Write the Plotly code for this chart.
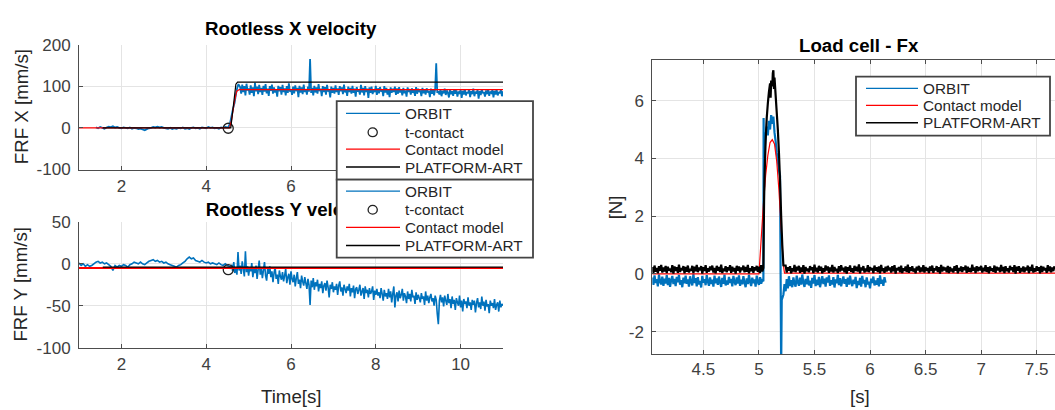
import plotly.graph_objects as go

W, H = 1055, 410

# ---------------- Rootless X velocity (top-left) ----------------
ORBIT_X_PRE_T0 = 1.40
ORBIT_X_PRE_DT = 0.05
ORBIT_X_PRE = [1, -1, 2, 0, -2, 1, 3, 2, 4, 1, 2, 0, -1, 1, 0, -1, 1, -2, 0, -1,
               -3, -2, -4, -6, -3, -1, 0, 2, 1, 3, 1, 2, 0, -1, -2, 0, -3, -1, -2, 0,
               -1, 1, -2, -1, -3, 0, 1, -1, 0, -2, 1, 0, -1, 2, 0, 1, -1, 0, -2, 1,
               0, 2, 1]
ORBIT_X_RAMP_T = [4.52, 4.56, 4.60, 4.63, 4.67, 4.70, 4.73, 4.76]
ORBIT_X_RAMP = [1, 10, 30, 45, 60, 80, 95, 105]
ORBIT_X_POST_T0 = 4.80
ORBIT_X_POST_DT = 0.025
ORBIT_X_POST = [98, 82, 104, 86, 100, 78, 106, 90, 95, 80,
                102, 84, 97, 76, 108, 88, 99, 81, 103, 86,
                96, 79, 101, 87, 105, 83, 94, 77, 100, 89,
                104, 82, 97, 85, 92, 75, 101, 88, 98, 80,
                103, 86, 95, 78, 100, 84, 107, 87, 93, 79,
                99, 83, 102, 88, 96, 74, 101, 85, 97, 81,
                104, 86, 93, 80, 99, 87, 165, 84, 96, 78,
                101, 85, 97, 82, 105, 88, 94, 76, 100, 86,
                98, 80, 103, 87, 92, 73, 99, 84, 96, 82,
                102, 86, 95, 79, 100, 88, 97, 81, 104, 85,
                93, 77, 99, 86, 96, 82, 101, 84, 94, 75,
                98, 87, 92, 80, 103, 85, 96, 78, 100, 86,
                94, 72, 97, 84, 99, 81, 92, 86, 101, 79,
                95, 83, 98, 87, 93, 76, 100, 85, 96, 80,
                91, 74, 97, 84, 94, 86, 99, 79, 95, 82,
                98, 85, 92, 78, 96, 83, 90, 75, 97, 86,
                93, 80, 95, 84, 91, 77, 98, 82, 94, 86,
                90, 76, 96, 83, 92, 80, 95, 85, 89, 74,
                94, 82, 91, 78, 93, 155, 84, 88, 80, 92,
                76, 89, 83, 94, 79, 90, 84, 73, 92, 81,
                88, 77, 93, 82, 90, 75, 87, 84, 91, 72,
                89, 80, 93, 78, 86, 83, 92, 74, 88, 81,
                94, 76, 87, 82, 91, 70, 88, 79, 92, 83,
                86, 75, 90, 81, 93, 77, 87, 84, 91, 73,
                89, 80, 92, 78, 86, 83, 91, 76, 88]
CONTACT_X_T = [1.0, 4.55, 4.60, 4.66, 4.72, 4.78, 11.0]
CONTACT_X = [0, 0, 20, 60, 88, 92, 92]
PLATFORM_X_T = [1.56, 4.58, 4.70, 4.74, 11.0]
PLATFORM_X = [0, 0, 105, 110, 110]
TCONTACT_X_T = [4.52]
TCONTACT_X = [-1]

# ---------------- Rootless Y velocity (bottom-left) ----------------
ORBIT_Y_PRE_T0 = 1.00
ORBIT_Y_PRE_DT = 0.05
ORBIT_Y_PRE = [1, -2, 0, -3, -1, -3, -2, 0, 2, 3, 1, 2, 0, 1, -1, -3, -8, -2, -4, -2,
               -3, -1, -2, -4, -1, 0, 2, 1, 0, 2, 0, -1, 1, 3, 4, 5, 3, 4, 2, 3,
               1, 2, 0, -1, -2, -3, -4, -2, -1, 1, 3, 6, 8, 6, 7, 4, 3, 2, 4, 2,
               1, 2, 0, 1, 0, -1, 1, -1, -2, 0, -2]
ORBIT_Y_POST_T0 = 4.55
ORBIT_Y_POST_DT = 0.025
ORBIT_Y_POST = [-3, -6, -1, -9, 2, -11, -4, -13, 14, -8,
                -2, -12, 3, -6, -15, 15, -10, -3, -14, -5,
                -9, 1, -16, -6, -11, -2, -18, -7, 4, -13,
                -5, -17, -8, 2, -14, -20, -6, -12, -3, -16,
                -9, -22, -11, -4, -18, -13, -24, -8, -15, -19,
                -10, -21, -14, -6, -23, -16, -12, -25, -9, -18,
                -22, -13, -27, -17, -10, -24, -19, -29, -14, -21,
                -26, -16, -23, -30, -18, -25, -49, -20, -28, -17,
                -31, -22, -27, -19, -33, -24, -29, -21, -35, -26,
                -23, -32, -20, -28, -40, -25, -30, -22, -34, -27,
                -31, -24, -37, -26, -21, -33, -28, -38, -25, -30,
                -35, -27, -32, -24, -39, -29, -34, -26, -41, -30,
                -28, -36, -31, -25, -38, -33, -29, -42, -27, -35,
                -31, -40, -29, -36, -33, -27, -43, -32, -37, -30,
                -38, -34, -41, -29, -36, -44, -31, -39, -35, -42,
                -30, -40, -33, -46, -36, -27, -52, -38, -34, -45,
                -32, -41, -37, -30, -44, -35, -39, -47, -33, -42,
                -36, -45, -31, -40, -38, -48, -34, -43, -37, -41,
                -46, -35, -42, -39, -49, -33, -44, -38, -47, -40,
                -36, -45, -41, -50, -38, -43, -60, -72, -44, -37,
                -46, -40, -51, -38, -44, -49, -36, -47, -42, -53,
                -39, -48, -43, -55, -41, -46, -50, -38, -52, -44,
                -57, -42, -48, -45, -53, -40, -50, -46, -55, -43,
                -49, -44, -58, -47, -41, -52, -46, -54, -39, -50,
                -45, -56, -43, -51, -48, -59, -44, -50, -47, -53,
                -42, -55, -49, -46, -57, -44, -52, -48, -50]
CONTACT_Y_T = [1.0, 11.0]
CONTACT_Y = [-5, -5]
PLATFORM_Y_T = [1.56, 11.0]
PLATFORM_Y = [-4, -4]
TCONTACT_Y_T = [4.52]
TCONTACT_Y = [-7]

# ---------------- Load cell - Fx (right) ----------------
FX_ORBIT_PRE_T0 = 4.04
FX_ORBIT_PRE_DT = 0.01
FX_ORBIT_PRE = [-0.12, -0.38, -0.05, -0.31, -0.18, -0.43, -0.02, -0.27, -0.36, -0.09,
                -0.41, -0.16, -0.33, -0.04, -0.39, -0.14, -0.45, -0.21, -0.07, -0.35,
                -0.17, -0.42, -0.1, -0.29, -0.03, -0.37, -0.22, -0.46, -0.13, -0.32,
                -0.06, -0.34, -0.19, -0.44, -0.08, -0.28, -0.4, -0.01, -0.31, -0.15,
                -0.43, -0.11, -0.36, -0.24, -0.47, -0.07, -0.3, -0.18, -0.39, -0.04,
                -0.26, -0.41, -0.12, -0.35, -0.2, -0.44, -0.06, -0.32, -0.16, -0.38,
                -0.09, -0.29, -0.45, -0.14, -0.34, -0.02, -0.4, -0.23, -0.37, -0.1,
                -0.31, -0.17, -0.43, -0.07, -0.28, -0.39, -0.12, -0.33, -0.05, -0.41,
                -0.2, -0.36, -0.08, -0.3, -0.46, -0.15, -0.35, -0.03, -0.27, -0.42,
                -0.13, -0.32, -0.19, -0.44, -0.06, -0.29, -0.38, -0.11, -0.34, -0.22,
                -0.25]
FX_ORBIT_BUMP_T = [5.042, 5.046, 5.05, 5.06, 5.07, 5.08, 5.09, 5.10, 5.11, 5.12,
                   5.13, 5.14, 5.15, 5.16, 5.17, 5.18, 5.19, 5.195, 5.20, 5.205]
FX_ORBIT_BUMP = [5.4, 3.0, 4.2, 4.8, 5.1, 4.8, 5.3, 5.0, 5.5, 5.2,
                 5.45, 4.9, 4.6, 4.2, 3.9, 3.6, 3.4, 0.0, -3.2, -0.9]
FX_ORBIT_POST_T0 = 5.22
FX_ORBIT_POST_DT = 0.01
FX_ORBIT_POST = [-0.72, -0.35, -0.6, -0.18, -0.5, -0.08, -0.42, -0.22, -0.46, -0.12,
                 -0.33, -0.44, -0.06, -0.29, -0.41, -0.13, -0.37, -0.02, -0.31, -0.45,
                 -0.17, -0.36, -0.07, -0.4, -0.23, -0.48, -0.14, -0.33, -0.04, -0.42,
                 -0.2, -0.38, -0.1, -0.46, -0.26, -0.08, -0.35, -0.16, -0.44, -0.12,
                 -0.3, -0.05, -0.41, -0.22, -0.36, -0.11, -0.47, -0.19, -0.32, -0.03,
                 -0.39, -0.15, -0.43, -0.25, -0.09, -0.34, -0.18, -0.45, -0.13, -0.37,
                 -0.06, -0.3, -0.42, -0.2, -0.35, -0.1, -0.49, -0.24, -0.38, -0.14,
                 -0.44, -0.07, -0.33, -0.21, -0.46, -0.12, -0.36, -0.27, -0.5, -0.16,
                 -0.31, -0.09, -0.4, -0.23, -0.37, -0.15, -0.43, -0.05, -0.34, -0.2,
                 -0.41, -0.11, -0.3]

FX_CONTACT_T = [4.04, 5.00, 5.02, 5.04, 5.06, 5.08, 5.10, 5.12, 5.14, 5.16,
                5.18, 5.20, 5.22, 5.23, 7.665]
FX_CONTACT = [0.0, 0.0, 1.2, 2.4, 3.4, 4.1, 4.55, 4.65, 4.5, 3.9,
              2.9, 1.6, 0.3, 0.03, 0.03]

FX_PLATFORM_PRE_T0 = 4.04
FX_PLATFORM_PRE_DT = 0.01
FX_PLATFORM_PRE = [0.24, 0.04, 0.29, 0.08, 0.21, 0.02, 0.27, 0.11, 0.31, 0.05,
                   0.22, 0.09, 0.28, 0.03, 0.25, 0.12, 0.19, 0.06, 0.3, 0.01,
                   0.26, 0.1, 0.23, 0.04, 0.32, 0.07, 0.2, 0.13, 0.27, 0.02,
                   0.24, 0.08, 0.29, 0.05, 0.18, 0.11, 0.28, 0.03, 0.25, 0.09,
                   0.31, 0.06, 0.22, 0.12, 0.27, 0.01, 0.23, 0.1, 0.3, 0.04,
                   0.2, 0.08, 0.26, 0.13, 0.29, 0.05, 0.21, 0.02, 0.28, 0.11,
                   0.24, 0.07, 0.32, 0.03, 0.19, 0.1, 0.27, 0.06, 0.23, 0.12,
                   0.3, 0.04, 0.25, 0.09, 0.21, 0.01, 0.28, 0.11, 0.26, 0.05,
                   0.22, 0.13, 0.29, 0.06, 0.24, 0.08, 0.31, 0.02, 0.2, 0.1,
                   0.27, 0.04, 0.23, 0.12, 0.28, 0.07, 0.25, 0.03, 0.3, 0.09,
                   0.21]
FX_PLATFORM_BUMP_T = [5.046, 5.05, 5.06, 5.07, 5.08, 5.09, 5.10, 5.105, 5.11, 5.12,
                      5.125, 5.13, 5.135, 5.14, 5.15, 5.16, 5.17, 5.18, 5.19, 5.20,
                      5.21, 5.22]
FX_PLATFORM_BUMP = [2.5, 3.3, 4.6, 5.4, 5.9, 6.3, 6.6, 6.1, 6.7, 6.5,
                    6.95, 7.05, 6.4, 6.8, 6.2, 5.6, 5.0, 4.2, 3.2, 2.0,
                    1.0, 0.3]
FX_PLATFORM_POST_T0 = 5.24
FX_PLATFORM_POST_DT = 0.01
FX_PLATFORM_POST = [0.29, 0.05, 0.23, 0.11, 0.27, 0.02, 0.2, 0.09, 0.31, 0.06,
                    0.25, 0.12, 0.28, 0.04, 0.22, 0.08, 0.3, 0.01, 0.24, 0.1,
                    0.19, 0.06, 0.27, 0.13, 0.23, 0.03, 0.32, 0.09, 0.21, 0.05,
                    0.28, 0.11, 0.25, 0.02, 0.2, 0.07, 0.29, 0.12, 0.26, 0.04,
                    0.22, 0.09, 0.31, 0.05, 0.24, 0.1, 0.18, 0.03, 0.27, 0.08,
                    0.3, 0.13, 0.21, 0.06, 0.26, 0.01, 0.23, 0.11, 0.29, 0.07,
                    0.2, 0.04, 0.28, 0.1, 0.25, 0.08, 0.33, 0.02, 0.22, 0.12,
                    0.27, 0.05, 0.19, 0.09, 0.3, 0.06, 0.24, 0.13, 0.21, 0.03,
                    0.29, 0.11, 0.23, 0.07, 0.26, 0.02, 0.31, 0.1, 0.2, 0.04,
                    0.25, 0.08, 0.28, 0.12, 0.22, 0.05, 0.27, 0.09, 0.3, 0.01,
                    0.21, 0.13, 0.24, 0.06, 0.29, 0.03, 0.2, 0.11, 0.26, 0.07,
                    0.32, 0.04, 0.23, 0.1, 0.27, 0.08, 0.19, 0.02, 0.25, 0.12,
                    0.28, 0.06, 0.22, 0.09, 0.3, 0.05, 0.24, 0.11, 0.21, 0.03,
                    0.26, 0.1, 0.29, 0.04, 0.2, 0.13, 0.27, 0.07, 0.23, 0.01,
                    0.31, 0.08, 0.25, 0.12, 0.22, 0.06, 0.28, 0.03, 0.24, 0.09,
                    0.19, 0.05, 0.27, 0.11, 0.3, 0.02, 0.21, 0.1, 0.26, 0.07,
                    0.23, 0.13, 0.29, 0.04, 0.25, 0.08, 0.2, 0.06, 0.32, 0.11,
                    0.22, 0.03, 0.27, 0.09, 0.24, 0.12, 0.28, 0.05, 0.21, 0.1,
                    0.3, 0.07, 0.23, 0.02, 0.26, 0.11, 0.19, 0.08, 0.29, 0.04,
                    0.25, 0.12, 0.22, 0.06, 0.31, 0.09, 0.24, 0.03, 0.27, 0.1,
                    0.2, 0.05, 0.28, 0.13, 0.23, 0.07, 0.3, 0.01, 0.25, 0.11,
                    0.27, 0.04, 0.21, 0.09, 0.26, 0.06, 0.22, 0.12, 0.29, 0.03,
                    0.24, 0.1, 0.32, 0.05, 0.2, 0.08, 0.27, 0.11, 0.23, 0.02,
                    0.28, 0.07, 0.25, 0.13, 0.21, 0.04, 0.3, 0.09, 0.26, 0.06,
                    0.22, 0.1, 0.27]

# tick values / labels
VEL_X_TICKS = [2, 4, 6, 8, 10]
VEL_X_LABELS = ["2", "4", "6", "8", "10"]
VX_Y_TICKS = [-100, 0, 100, 200]
VX_Y_LABELS = ["-100", "0", "100", "200"]
VY_Y_TICKS = [-100, -50, 0, 50]
VY_Y_LABELS = ["-100", "-50", "0", "50"]
FX_X_TICKS = [4.5, 5, 5.5, 6, 6.5, 7, 7.5]
FX_X_LABELS = ["4.5", "5", "5.5", "6", "6.5", "7", "7.5"]
FX_Y_TICKS = [-2, 0, 2, 4, 6]
FX_Y_LABELS = ["-2", "0", "2", "4", "6"]

LEGEND_VEL = ["ORBIT", "t-contact", "Contact model", "PLATFORM-ART"]
LEGEND_FX = ["ORBIT", "Contact model", "PLATFORM-ART"]

BLUE = "#0072BD"
RED = "#FF0000"
BLACK = "#000000"
FONT = "Liberation Sans, Arial, Helvetica, sans-serif"


def sampled(t0, dt, vals):
    return [round(t0 + dt * i, 6) for i in range(len(vals))]


def X(px):
    return px / W


def Y(py):
    return 1 - py / H


fig = go.Figure()
LW = 1.2


def line(color, width=LW):
    return dict(color=color, width=width, simplify=False)


# top-left traces
ox_t = sampled(ORBIT_X_PRE_T0, ORBIT_X_PRE_DT, ORBIT_X_PRE) + ORBIT_X_RAMP_T + \
    sampled(ORBIT_X_POST_T0, ORBIT_X_POST_DT, ORBIT_X_POST)
ox_v = ORBIT_X_PRE + ORBIT_X_RAMP + ORBIT_X_POST
fig.add_trace(go.Scatter(x=ox_t, y=ox_v, mode="lines", name="ORBIT",
                         line=line(BLUE, 1.8), xaxis="x", yaxis="y"))
fig.add_trace(go.Scatter(x=TCONTACT_X_T, y=TCONTACT_X, mode="markers", name="t-contact",
                         marker=dict(symbol="circle-open", size=10, color="#222222",
                                     line=dict(width=1.3)), xaxis="x", yaxis="y"))
fig.add_trace(go.Scatter(x=CONTACT_X_T, y=CONTACT_X, mode="lines", name="Contact model",
                         line=line(RED), xaxis="x", yaxis="y"))
fig.add_trace(go.Scatter(x=PLATFORM_X_T, y=PLATFORM_X, mode="lines", name="PLATFORM-ART",
                         line=line(BLACK), xaxis="x", yaxis="y"))

# bottom-left traces
oy_t = sampled(ORBIT_Y_PRE_T0, ORBIT_Y_PRE_DT, ORBIT_Y_PRE) + \
    sampled(ORBIT_Y_POST_T0, ORBIT_Y_POST_DT, ORBIT_Y_POST)
oy_v = ORBIT_Y_PRE + ORBIT_Y_POST
fig.add_trace(go.Scatter(x=oy_t, y=oy_v, mode="lines", name="ORBIT",
                         line=line(BLUE, 1.6), xaxis="x2", yaxis="y2"))
fig.add_trace(go.Scatter(x=TCONTACT_Y_T, y=TCONTACT_Y, mode="markers", name="t-contact",
                         marker=dict(symbol="circle-open", size=10, color="#222222",
                                     line=dict(width=1.3)), xaxis="x2", yaxis="y2"))
fig.add_trace(go.Scatter(x=CONTACT_Y_T, y=CONTACT_Y, mode="lines", name="Contact model",
                         line=line(RED, 2), xaxis="x2", yaxis="y2"))
fig.add_trace(go.Scatter(x=PLATFORM_Y_T, y=PLATFORM_Y, mode="lines", name="PLATFORM-ART",
                         line=line(BLACK), xaxis="x2", yaxis="y2"))

# right traces
fo_t = sampled(FX_ORBIT_PRE_T0, FX_ORBIT_PRE_DT, FX_ORBIT_PRE) + FX_ORBIT_BUMP_T + \
    sampled(FX_ORBIT_POST_T0, FX_ORBIT_POST_DT, FX_ORBIT_POST)
fo_v = FX_ORBIT_PRE + FX_ORBIT_BUMP + FX_ORBIT_POST
fig.add_trace(go.Scatter(x=fo_t, y=fo_v, mode="lines", name="ORBIT",
                         line=line(BLUE, 2.2), xaxis="x3", yaxis="y3"))
fig.add_trace(go.Scatter(x=FX_CONTACT_T, y=FX_CONTACT, mode="lines", name="Contact model",
                         line=line(RED), xaxis="x3", yaxis="y3"))
fp_t = sampled(FX_PLATFORM_PRE_T0, FX_PLATFORM_PRE_DT, FX_PLATFORM_PRE) + FX_PLATFORM_BUMP_T + \
    sampled(FX_PLATFORM_POST_T0, FX_PLATFORM_POST_DT, FX_PLATFORM_POST)
fp_v = FX_PLATFORM_PRE + FX_PLATFORM_BUMP + FX_PLATFORM_POST
fig.add_trace(go.Scatter(x=fp_t, y=fp_v, mode="lines", name="PLATFORM-ART",
                         line=line(BLACK, 2.2), xaxis="x3", yaxis="y3"))


def axis(**kw):
    d = dict(showline=True, linecolor="#4d4d4d", linewidth=1, ticks="inside", ticklen=4,
             tickcolor="#4d4d4d", tickwidth=1, showgrid=True, gridcolor="#e4e4e4",
             gridwidth=1, zeroline=False, fixedrange=True, tickmode="array",
             tickfont=dict(family=FONT, size=17, color="#404040"))
    d.update(kw)
    return d


fig.update_layout(
    width=W, height=H, margin=dict(l=0, r=0, t=0, b=0),
    paper_bgcolor="white", plot_bgcolor="white", showlegend=False,
    xaxis=axis(domain=[X(79), X(503)], range=[1, 11], anchor="y",
               tickvals=VEL_X_TICKS, ticktext=VEL_X_LABELS, ticklabelstandoff=1),
    yaxis=axis(domain=[Y(168.3), Y(37.3)], range=[-100, 200], anchor="x",
               tickvals=VX_Y_TICKS, ticktext=VX_Y_LABELS, ticklabelstandoff=4),
    xaxis2=axis(domain=[X(79), X(503)], range=[1, 11], anchor="y2",
                tickvals=VEL_X_TICKS, ticktext=VEL_X_LABELS, ticklabelstandoff=1),
    yaxis2=axis(domain=[Y(355), Y(223.3)], range=[-100, 50], anchor="x2",
                tickvals=VY_Y_TICKS, ticktext=VY_Y_LABELS, ticklabelstandoff=4),
    xaxis3=axis(domain=[X(652.3), 1.0], range=[4.04, 7.665], anchor="y3", mirror="ticks",
                tickvals=FX_X_TICKS, ticktext=FX_X_LABELS, ticklabelstandoff=0),
    yaxis3=axis(domain=[Y(361.7), Y(54)], range=[-2.77, 7.39], anchor="x3",
                tickvals=FX_Y_TICKS, ticktext=FX_Y_LABELS, ticklabelstandoff=4),
)

TXT = "#262626"
ann = []


def text(s, px, py, size, angle=0, bold=False, xanchor="center"):
    ann.append(dict(text=("<b>%s</b>" % s) if bold else s, x=X(px), y=Y(py),
                    xref="paper", yref="paper", xanchor=xanchor, yanchor="middle",
                    showarrow=False, textangle=angle,
                    font=dict(family=FONT, size=size, color="#000000" if bold else TXT)))


text("Rootless X velocity", 291, 20, 18.7, bold=True)
text("Load cell - Fx", 859, 38, 18.7, bold=True)
text("FRF X [mm/s]", 21, 103, 18.7, angle=-90)
text("FRF Y [mm/s]", 21, 289, 18.7, angle=-90)
text("[N]", 615, 208, 18.7, angle=-90)
text("Time[s]", 291, 406, 18.7)
text("[s]", 860, 406, 18.7)

shapes = []
# bottom-left title drawn as a shape label so the legend box can cover it
shapes.append(dict(type="rect", xref="paper", yref="paper", x0=X(190), x1=X(392),
                   y0=Y(218), y1=Y(198), line=dict(width=0), fillcolor="rgba(0,0,0,0)",
                   layer="above",
                   label=dict(text="<b>Rootless Y velocity</b>", textposition="middle center",
                              font=dict(family=FONT, size=18.7, color="#000000"))))

BOX_LINE = dict(color="#444444", width=1.8)


def legend_box(x0, y0, x1, y1):
    shapes.append(dict(type="rect", xref="paper", yref="paper", x0=X(x0), x1=X(x1),
                       y0=Y(y1), y1=Y(y0), line=BOX_LINE, fillcolor="white", layer="above"))


def legend_line(x0, x1, py, color):
    shapes.append(dict(type="line", xref="paper", yref="paper", x0=X(x0), x1=X(x1),
                       y0=Y(py), y1=Y(py), line=dict(color=color, width=1.3), layer="above"))


def legend_circle(cx, cy, r):
    shapes.append(dict(type="circle", xref="paper", yref="paper", x0=X(cx - r), x1=X(cx + r),
                       y0=Y(cy + r), y1=Y(cy - r), line=dict(color="#222222", width=1.3),
                       layer="above"))


def legend_text(s, px, py):
    ann.append(dict(text=s, x=X(px), y=Y(py), xref="paper", yref="paper", xanchor="left",
                    yanchor="middle", showarrow=False,
                    font=dict(family=FONT, size=15.3, color=TXT)))


for (top, bot, ys) in [(96.7, 179, [109.5, 129.3, 147, 165.7]),
                       (179, 260.7, [191, 210.5, 229, 248])]:
    legend_box(336.7, top, 533, bot)
    legend_line(346, 400, ys[0], BLUE)
    legend_circle(372.7, ys[1], 4.6)
    legend_line(346, 400, ys[2], RED)
    legend_line(346, 400, ys[3], BLACK)
    for s, yy in zip(LEGEND_VEL, ys):
        legend_text(s, 403, yy)

legend_box(856, 71, 1050, 132.7)
for s, yy, c in zip(LEGEND_FX, [83.3, 101, 119.3], [BLUE, RED, BLACK]):
    legend_line(866, 918, yy, c)
    legend_text(s, 921, yy)

fig.update_layout(annotations=ann, shapes=shapes)

# make the page exactly the size of the figure (no default body margin / scrollbars)
POST = ("document.documentElement.style.margin='0';document.body.style.margin='0';"
        "document.body.style.padding='0';document.documentElement.style.overflow='hidden';"
        "document.body.style.overflow='hidden';")
fig.write_html("out.html", post_script=POST)
